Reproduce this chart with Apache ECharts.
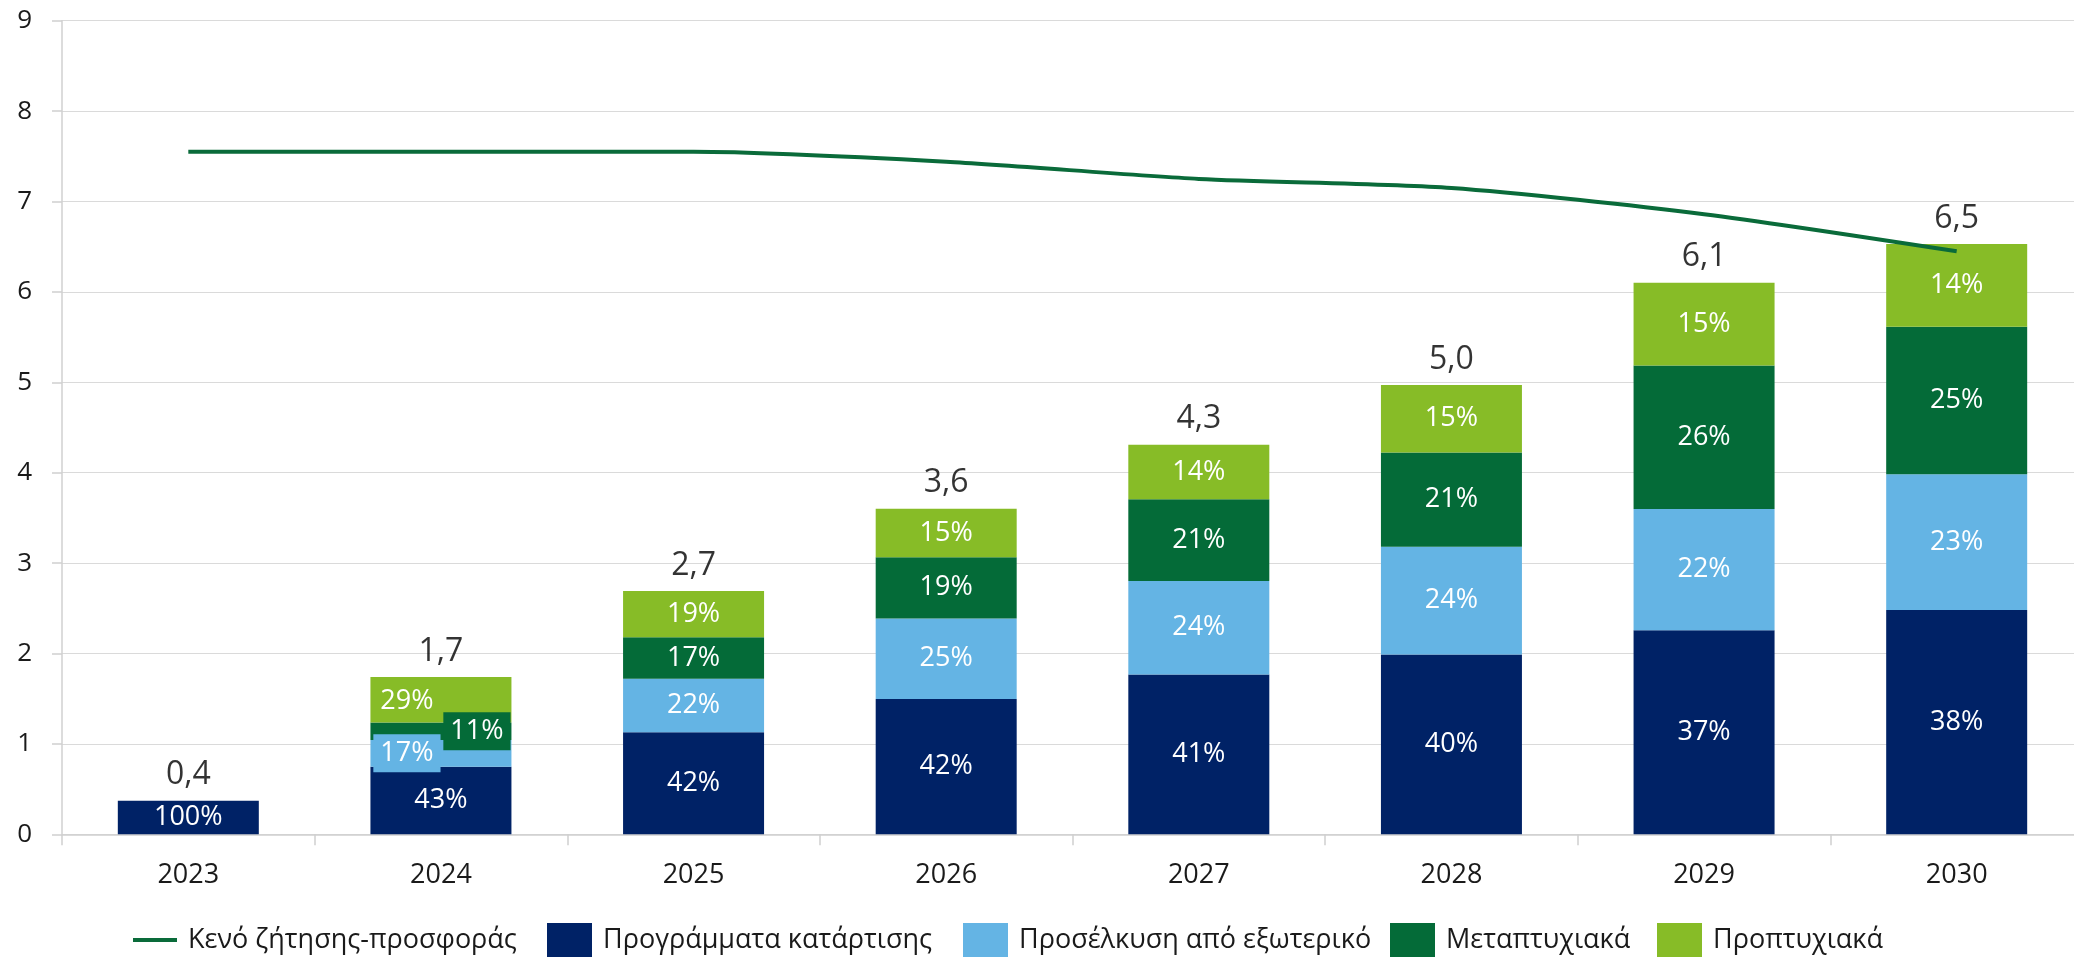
<!DOCTYPE html>
<html>
<head>
<meta charset="utf-8">
<script src="https://cdn.jsdelivr.net/npm/echarts@6/dist/echarts.min.js"></script>
<style>
html,body{margin:0;padding:0;background:#fff;}
#chart{width:2074px;height:960px;}
</style>
</head>
<body>
<div id="chart"></div>
<script>
// ---- data ----
const years = ['2023', '2024', '2025', '2026', '2027', '2028', '2029', '2030'];
const totals = [0.37, 1.74, 2.69, 3.60, 4.31, 4.97, 6.10, 6.53];
const gapDemandSupply = [7.55, 7.55, 7.55, 7.44, 7.25, 7.15, 6.86, 6.45];
const shareTraining = [100, 43, 42, 42, 41, 40, 37, 38];
const shareAbroad = [0, 17, 22, 25, 24, 24, 22, 23];
const sharePostgrad = [0, 11, 17, 19, 21, 21, 26, 25];
const shareUndergrad = [0, 29, 19, 15, 14, 15, 15, 14];
const names = ['Κενό ζήτησης-προσφοράς', 'Προγράμματα κατάρτισης', 'Προσέλκυση από εξωτερικό', 'Μεταπτυχιακά', 'Προπτυχιακά'];

// ---- style ----
const FONT = '"Open Sans", "Noto Sans", sans-serif';
const C_NAVY = '#002266', C_LBLUE = '#64B4E4', C_DGREEN = '#046B38', C_LGREEN = '#87BC27', C_LINE = '#0A6B3A';
const TXT = '#1a1a1a';

const allShares = [shareTraining, shareAbroad, sharePostgrad, shareUndergrad];
const shareSum = years.map((_, i) => allShares.reduce((s, a) => s + a[i], 0));

// label placement tweaks seen in the reference for the crowded 2024 bar
const labelTweaks = {
  1: {
    1: { offset: [-34, 0], backgroundColor: C_LBLUE, padding: [2, 7] },
    2: { offset: [36, 0], backgroundColor: C_DGREEN, padding: [2, 7] },
    3: { offset: [-34, 2] }
  }
};

function segSeries(k, shares, color) {
  return {
    name: names[k + 1],
    type: 'bar',
    stack: 'total',
    barWidth: 141,
    itemStyle: { color: color },
    label: {
      show: true, position: 'inside', color: '#fff', fontSize: 27, fontFamily: FONT,
      formatter: p => shares[p.dataIndex] ? shares[p.dataIndex] + '%' : ''
    },
    data: years.map((y, i) => {
      const item = { value: totals[i] * shares[i] / shareSum[i] };
      const t = labelTweaks[i] && labelTweaks[i][k];
      if (t) item.label = Object.assign({ lineHeight: 34 }, t);
      return item;
    })
  };
}

function legendFor(name, left, icon, w, h) {
  return {
    data: [name], left: left, top: 923, padding: 0, icon: icon,
    itemWidth: w, itemHeight: h, selectedMode: false,
    textStyle: { fontSize: 27, fontFamily: FONT, color: TXT, lineHeight: 34, padding: [0, 0, 0, 6] }
  };
}

const chart = echarts.init(document.getElementById('chart'));
chart.setOption({
  animation: false,
  backgroundColor: '#fff',
  grid: { left: 62, top: 20.7, width: 2021, height: 813.6, containLabel: false, outerBoundsMode: 'none' },
  legend: [
    legendFor(names[0], 133, 'rect', 44, 4),
    legendFor(names[1], 547, 'rect', 45, 34),
    legendFor(names[2], 963, 'rect', 45, 34),
    legendFor(names[3], 1390, 'rect', 45, 34),
    legendFor(names[4], 1657, 'rect', 45, 34)
  ],
  xAxis: {
    type: 'category', data: years, boundaryGap: true,
    axisLine: { lineStyle: { color: '#D0D0D0', width: 1.5 } },
    axisTick: { show: true, length: 11, lineStyle: { color: '#D0D0D0', width: 1.5 } },
    axisLabel: { color: TXT, fontSize: 27, fontFamily: FONT, margin: 28 }
  },
  yAxis: {
    type: 'value', min: 0, max: 9, interval: 1,
    axisLine: { show: true, lineStyle: { color: '#D0D0D0', width: 1.5 } },
    axisTick: { show: true, length: 10, lineStyle: { color: '#D0D0D0', width: 1.5 } },
    splitLine: { lineStyle: { color: '#DADADA', width: 1.2 } },
    axisLabel: { color: TXT, fontSize: 26, fontFamily: FONT, margin: 30 }
  },
  series: [
    segSeries(0, shareTraining, C_NAVY),
    segSeries(1, shareAbroad, C_LBLUE),
    segSeries(2, sharePostgrad, C_DGREEN),
    segSeries(3, shareUndergrad, C_LGREEN),
    {
      name: names[0], type: 'line', data: gapDemandSupply, smooth: 0.25,
      symbol: 'none', color: C_LINE, z: 5,
      lineStyle: { color: C_LINE, width: 4 }
    },
    {
      name: 'totals', type: 'scatter', data: totals, symbolSize: 1, silent: true,
      itemStyle: { color: 'rgba(0,0,0,0)' }, z: 6,
      label: {
        show: true, position: 'top', distance: 9, color: '#000', fontSize: 32, fontFamily: FONT,
        formatter: p => totals[p.dataIndex].toFixed(1).replace('.', ',')
      }
    }
  ]
});
</script>
</body>
</html>
